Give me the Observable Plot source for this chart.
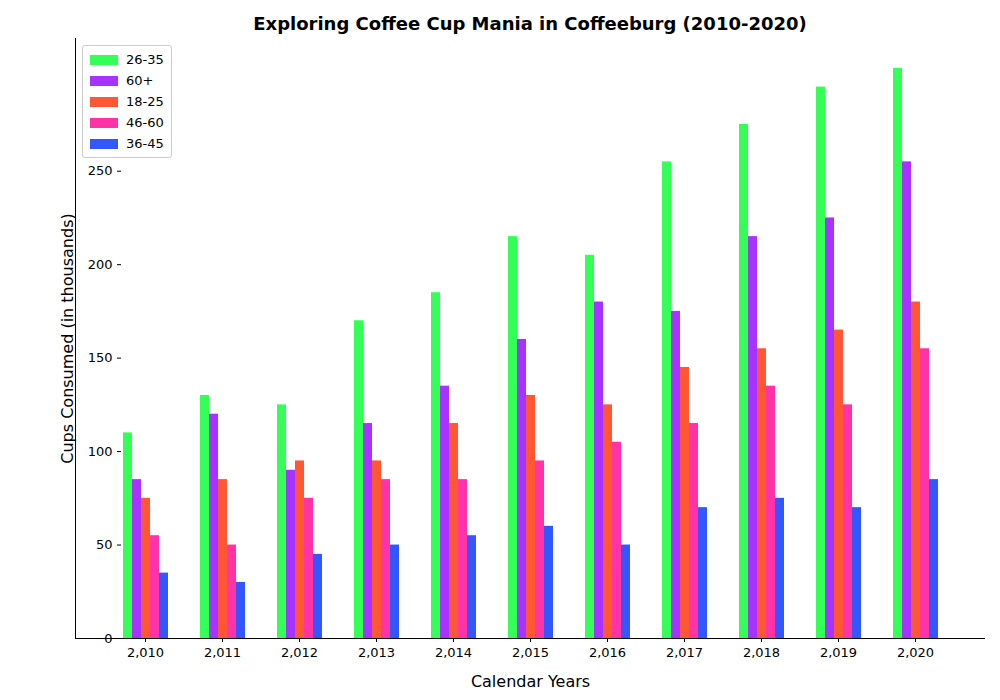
<!DOCTYPE html>
<html><head><meta charset="utf-8">
<script src="https://cdn.jsdelivr.net/npm/d3@7"></script>
<script src="https://cdn.jsdelivr.net/npm/@observablehq/plot@0.6"></script>
<style>
body{margin:0;background:#fff;font-family:"DejaVu Sans",sans-serif}
#wrap{position:relative;width:1000px;height:700px}
#title{height:38px;text-align:center;font-weight:bold;font-size:18px;line-height:48px;padding-left:60px}
#legend{position:absolute;left:82px;top:45px;border:1px solid #ccc;border-radius:3px;padding:3px 7px;font-size:13px;background:#fff}
#legend div{display:flex;align-items:center;height:21px}
#legend span{display:inline-block;width:28px;height:10px;margin-right:8px}
.spine{position:absolute;background:#000}
</style></head>
<body><div id="wrap">
<div id="title">Exploring Coffee Cup Mania in Coffeeburg (2010-2020)</div>
<div id="chart"></div>
<div id="legend"></div>
<div class="spine" style="left:75px;top:638px;width:910px;height:1px"></div>
<div class="spine" style="left:75px;top:38px;width:1px;height:600px"></div>
</div>
<script>
const years = [2010,2011,2012,2013,2014,2015,2016,2017,2018,2019,2020]
const groups = ['26-35','60+','18-25','46-60','36-45']
const colors = ['#33ff57','#a833ff','#ff5733','#ff33a8','#3357ff']
const v2635 = [110,130,125,170,185,215,205,255,275,295,305]
const v60 = [85,120,90,115,135,160,180,175,215,225,255]
const v1825 = [75,85,95,95,115,130,125,145,155,165,180]
const v4660 = [55,50,75,85,85,95,105,115,135,125,155]
const v3645 = [35,30,45,50,55,60,50,70,75,70,85]
const series = [v2635, v60, v1825, v4660, v3645]

const data = []
years.forEach((y, i) => groups.forEach((g, j) => data.push({year: y, group: g, value: series[j][i]})))

const chart = Plot.plot({
  width: 1000, height: 662,
  marginLeft: 75, marginRight: 15, marginTop: 0, marginBottom: 62,
  style: {fontSize: '13px', fontFamily: 'DejaVu Sans'},
  fx: {domain: years, paddingInner: 0.38, paddingOuter: 0.525, label: 'Calendar Years', labelAnchor: 'center', labelOffset: 48, tickSize: 4},
  x: {domain: groups, padding: 0, axis: null},
  y: {domain: [0, 321], ticks: [0,50,100,150,200,250,300], label: 'Cups Consumed (in thousands)', labelAnchor: 'center', labelArrow: 'none', labelOffset: 60, tickSize: 4},
  color: {domain: groups, range: colors},
  marks: [
    Plot.barY(data, {fx: 'year', x: 'group', y: 'value', fill: 'group'})
  ]
})
d3.select('#chart').append(() => chart)
d3.select(chart).selectAll('[aria-label="fx-axis label"] text, [aria-label="y-axis label"] text').style('font-size', '16px')

const lg = d3.select('#legend')
groups.forEach((g, i) => {
  const r = lg.append('div')
  r.append('span').style('background', colors[i])
  r.append('text').text(g)
})
</script></body></html>
